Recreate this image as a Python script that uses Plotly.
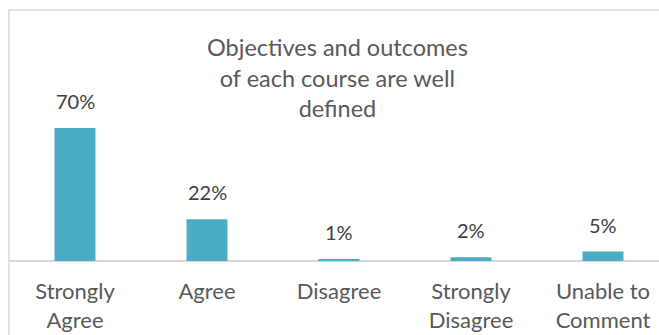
import plotly.graph_objects as go

categories = ["Strongly<br>Agree", "Agree", "Disagree", "Strongly<br>Disagree", "Unable to<br>Comment"]
values = [70, 22, 1, 2, 5]
labels = ["70%", "22%", "1%", "2%", "5%"]
title_text = "Objectives and outcomes<br>of each course are well<br>defined"

FONT = "Lato, Calibri, Carlito, sans-serif"
BAR = "#4BACC6"

W, H = 659, 335
L, T, B = 9, 10, 74
PW = W - L          # plot width in px
PH = H - T - B      # plot height in px
PX_PER_CAT = 132
PX_PER_PCT = 1.9

fig = go.Figure()
fig.add_trace(go.Bar(
    x=list(range(len(categories))), y=values,
    marker=dict(color=BAR, line=dict(width=0)),
    width=0.31,
    hoverinfo="skip",
))
for i, (v, t) in enumerate(zip(values, labels)):
    fig.add_annotation(x=i, y=v, text=t, showarrow=False, xref="x", yref="y",
                       yanchor="bottom", yshift=13,
                       font=dict(family=FONT, size=20, color="#404040"))

fig.add_annotation(x=(337.5 - L) / PW, y=1 - (31 - T) / PH, xref="paper", yref="paper",
                   text=title_text, showarrow=False, xanchor="center", yanchor="top",
                   font=dict(family=FONT, size=23.5, color="#595959"))

# chart border
fig.add_shape(type="rect", xref="paper", yref="paper", x0=0, x1=1.2, y0=-0.6, y1=1,
              line=dict(color="#D9D9D9", width=1.5), layer="below")

fig.update_layout(
    width=W, height=H,
    margin=dict(l=L, r=0, t=T, b=B),
    paper_bgcolor="white", plot_bgcolor="white",
    showlegend=False,
    xaxis=dict(range=[-0.5, -0.5 + PW / PX_PER_CAT], tickmode="array",
               tickvals=list(range(len(categories))), ticktext=categories,
               showgrid=False, zeroline=False, showline=False,
               ticks="outside", ticklen=11, tickcolor="rgba(0,0,0,0)",
               tickfont=dict(family=FONT, size=22, color="#595959")),
    yaxis=dict(range=[0, PH / PX_PER_PCT], visible=True, showticklabels=False,
               showgrid=False, zeroline=True, zerolinecolor="#D9D9D9", zerolinewidth=1.5,
               showline=False, ticks=""),
)

fig.write_html("out.html", config={"displayModeBar": False},
               post_script="document.body.style.margin='0';document.body.style.overflow='hidden';")
